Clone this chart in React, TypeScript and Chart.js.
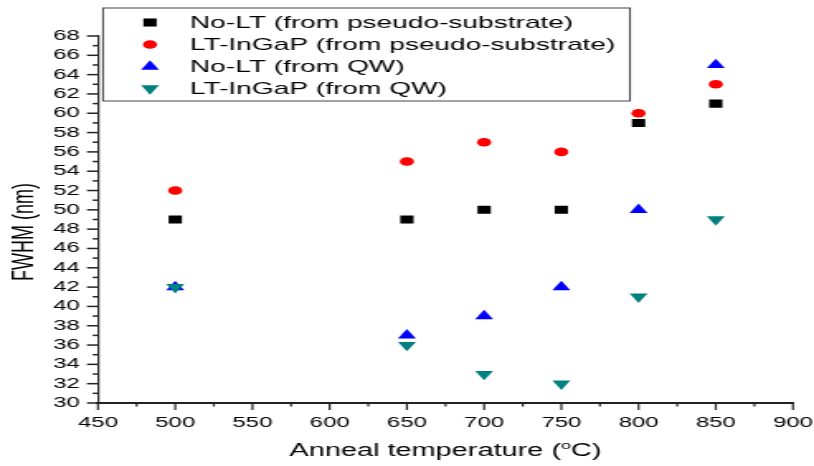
import React, { useEffect, useRef } from 'react';
import { Chart, registerables } from 'chart.js';

Chart.register(...registerables);

// ---- data ----
const temperatures = [500, 650, 700, 750, 800, 850];
const noLtPseudo = [49, 49, 50, 50, 59, 61];
const ltInGaPPseudo = [52, 55, 57, 56, 60, 63];
const noLtQW = [42, 37, 39, 42, 50, 65];
const ltInGaPQW = [42, 36, 33, 32, 41, 49];
const seriesLabels = [
  'No-LT (from pseudo-substrate)',
  'LT-InGaP (from pseudo-substrate)',
  'No-LT (from QW)',
  'LT-InGaP (from QW)',
];
const xRange = [450, 900];
const xStep = 50;
const yRange = [30, 68];
const yStep = 2;
const xTitleParts = ['Anneal temperature (', 'o', 'C)'];
const yTitle = 'FWHM (nm)';

// ---- geometry (display px) ----
const VIEW_W = 814;
const VIEW_H = 466;
const STRETCH = 1.65;
const RW = Math.round(VIEW_W / STRETCH);
const sx = (px: number) => (px * RW) / VIEW_W;
const AXIS_LEFT = 98;
const AXIS_RIGHT = 793;
const AXIS_TOP = 36;
const AXIS_BOTTOM = 403;
const FONT = "'Liberation Sans', Arial, Helvetica, sans-serif";

const colors = ['#000000', '#ff0000', '#0000ff', '#008080'];
const styles = ['rect', 'circle', 'triangle', 'triangle'];
const radii = [5.7, 4.3, 6.3, 6.3];
const rotations = [0, 0, 0, 180];

function drawMarker(ctx: CanvasRenderingContext2D, i: number, x: number, y: number) {
  ctx.save();
  ctx.fillStyle = colors[i];
  ctx.beginPath();
  const r = radii[i];
  if (styles[i] === 'rect') {
    const h = r * Math.SQRT1_2;
    ctx.rect(x - h, y - h, 2 * h, 2 * h);
  } else if (styles[i] === 'circle') {
    ctx.arc(x, y, r, 0, Math.PI * 2);
  } else {
    const dir = rotations[i] === 180 ? -1 : 1;
    ctx.moveTo(x, y - dir * r);
    ctx.lineTo(x + (r * Math.sqrt(3)) / 2, y + (dir * r) / 2);
    ctx.lineTo(x - (r * Math.sqrt(3)) / 2, y + (dir * r) / 2);
    ctx.closePath();
  }
  ctx.fill();
  ctx.restore();
}

const decorPlugin = {
  id: 'decor',
  afterDraw(chart: any) {
    const ctx: CanvasRenderingContext2D = chart.ctx;
    const xs = chart.scales.x;
    const ys = chart.scales.y;
    const axX = xs.left;
    const axY = ys.bottom;
    ctx.save();
    ctx.strokeStyle = '#222';
    // y ticks
    ctx.lineWidth = 1.5;
    for (let v = yRange[0]; v <= yRange[1]; v += 1) {
      const p = ys.getPixelForValue(v);
      const len = (v - yRange[0]) % yStep === 0 ? 6.7 : 3.2;
      ctx.beginPath();
      ctx.moveTo(axX - len, p);
      ctx.lineTo(axX, p);
      ctx.stroke();
    }
    // x ticks
    ctx.lineWidth = 1.2;
    for (let v = xRange[0]; v <= xRange[1]; v += xStep / 2) {
      const p = xs.getPixelForValue(v);
      const len = (v - xRange[0]) % xStep === 0 ? 7 : 3.5;
      ctx.beginPath();
      ctx.moveTo(p, axY);
      ctx.lineTo(p, axY + len);
      ctx.stroke();
    }
    // x title with superscript
    ctx.fillStyle = '#000';
    ctx.textBaseline = 'alphabetic';
    ctx.textAlign = 'left';
    const big = `17.5px ${FONT}`;
    const small = `11px ${FONT}`;
    ctx.font = big;
    const w1 = ctx.measureText(xTitleParts[0]).width;
    const w3 = ctx.measureText(xTitleParts[2]).width;
    ctx.font = small;
    const w2 = ctx.measureText(xTitleParts[1]).width;
    const cx = (xs.left + xs.right) / 2;
    let tx = cx - (w1 + w2 + w3) / 2;
    const base = 456;
    ctx.font = big;
    ctx.fillText(xTitleParts[0], tx, base);
    tx += w1;
    ctx.font = small;
    ctx.fillText(xTitleParts[1], tx, base - 7);
    tx += w2;
    ctx.font = big;
    ctx.fillText(xTitleParts[2], tx, base);
    // y title
    ctx.save();
    ctx.translate(sx(24), 232);
    ctx.rotate(-Math.PI / 2);
    ctx.textAlign = 'center';
    ctx.textBaseline = 'middle';
    ctx.font = `18px ${FONT}`;
    ctx.fillText(yTitle, 0, 0);
    ctx.restore();
    // legend
    const lx = sx(103);
    const lr = sx(630);
    const lt = 8;
    const lb = 101;
    ctx.lineWidth = 1;
    ctx.strokeStyle = '#444';
    ctx.strokeRect(lx, lt, lr - lx, lb - lt);
    const rows = [22.5, 44.5, 66.5, 88.5];
    ctx.font = `17px ${FONT}`;
    ctx.textAlign = 'left';
    ctx.textBaseline = 'middle';
    ctx.fillStyle = '#000';
    seriesLabels.forEach((lab, i) => {
      drawMarker(ctx, i, sx(150), rows[i]);
      ctx.fillStyle = '#000';
      ctx.fillText(lab, sx(190), rows[i] + 0.5);
    });
    ctx.restore();
  },
};

export default function App() {
  const ref = useRef<HTMLCanvasElement | null>(null);
  useEffect(() => {
    if (!ref.current) return;
    const series = [noLtPseudo, ltInGaPPseudo, noLtQW, ltInGaPQW];
    const chart = new Chart(ref.current, {
      type: 'scatter',
      data: {
        datasets: series.map((vals, i) => ({
          label: seriesLabels[i],
          data: temperatures.map((t, k) => ({ x: t, y: vals[k] })),
          pointStyle: styles[i] as any,
          pointRadius: radii[i],
          pointRotation: rotations[i],
          backgroundColor: colors[i],
          borderColor: colors[i],
          borderWidth: 0,
          order: 4 - i,
        })),
      },
      options: {
        responsive: false,
        animation: false,
        events: [],
        layout: { padding: { left: 0, top: AXIS_TOP, right: RW - sx(AXIS_RIGHT), bottom: 0 } },
        plugins: { legend: { display: false }, tooltip: { enabled: false }, title: { display: false } },
        scales: {
          x: {
            type: 'linear',
            min: xRange[0],
            max: xRange[1],
            ticks: { stepSize: xStep, color: '#000', font: { family: FONT, size: 14.5 }, padding: 4, maxRotation: 0, autoSkip: false },
            grid: { display: false, drawTicks: true, tickLength: 7 },
            border: { display: true, color: '#222', width: 2 },
            afterFit: (s: any) => {
              s.height = VIEW_H - AXIS_BOTTOM;
              s.paddingLeft = 0;
              s.paddingRight = 0;
            },
          },
          y: {
            type: 'linear',
            min: yRange[0],
            max: yRange[1],
            ticks: { stepSize: yStep, color: '#000', font: { family: FONT, size: 14.5 }, padding: 4, autoSkip: false },
            grid: { display: false, drawTicks: true, tickLength: 7 },
            border: { display: true, color: '#222', width: 1.2 },
            afterFit: (s: any) => {
              s.width = sx(AXIS_LEFT);
              s.paddingTop = 0;
              s.paddingBottom = 0;
            },
          },
        },
      },
      plugins: [decorPlugin],
    });
    return () => chart.destroy();
  }, []);
  return (
    <div style={{ position: 'absolute', left: 0, top: 0, width: VIEW_W, height: VIEW_H, background: '#fff' }}>
      <canvas
        ref={ref}
        width={RW}
        height={VIEW_H}
        style={{ display: 'block', width: `${VIEW_W}px`, height: `${VIEW_H}px` }}
      />
    </div>
  );
}
